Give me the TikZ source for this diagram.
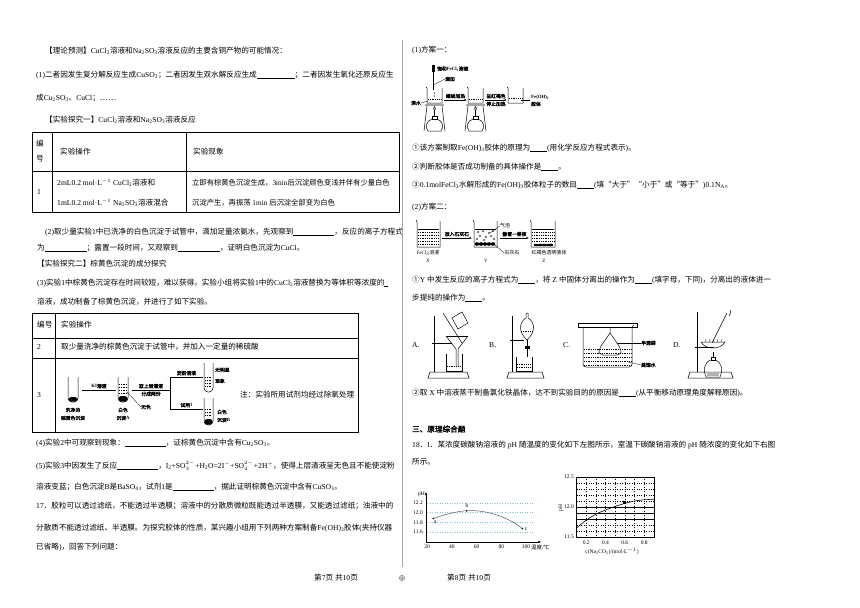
\documentclass[tikz,border=0pt]{standalone}
\usepackage{fontspec}
\setmainfont{Liberation Serif}
\newfontfamily\cjkf{Noto Sans CJK SC}[AutoFakeBold=2]
\usetikzlibrary{arrows.meta}

% 汉字自动换用中文字体
\XeTeXinterchartokenstate=1
\chardef\hanclass=10
\newcount\hanc
\def\sethan#1#2{\hanc=#1 \loop\XeTeXcharclass\hanc=\hanclass\advance\hanc by 1 \ifnum\hanc<#2 \repeat}
\sethan{"3000}{"3040}
\sethan{"4E00}{"A000}
\sethan{"FF00}{"FFF0}
\sethan{"2460}{"24A0}
\XeTeXcharclass"2103=\hanclass
\XeTeXcharclass"2018=\hanclass
\XeTeXcharclass"2019=\hanclass
\XeTeXcharclass"201C=\hanclass
\XeTeXcharclass"201D=\hanclass
\XeTeXcharclass"2026=\hanclass
\XeTeXinterchartoks 0 \hanclass={\cjkf}
\XeTeXinterchartoks 4095 \hanclass={\cjkf}
\XeTeXinterchartoks \hanclass 0={\rmfamily}
\XeTeXinterchartoks \hanclass 4095={\rmfamily}

\newcommand\kong[1]{\rule[-1.3pt]{#1}{0.45pt}}
\newcommand\tsub[1]{\textsubscript{#1}}
\newcommand\tsup[1]{\textsuperscript{#1}}
\newcommand\chion[2]{\ensuremath{_{#1}^{#2}}\kern0.4pt}

\begin{document}
\begin{tikzpicture}[x=1pt,y=-1pt,
    txt/.style={anchor=west,inner sep=0pt,font=\fontsize{7.6}{9}\selectfont},
    lab/.style={inner sep=0pt,font=\fontsize{4.8}{5.5}\selectfont\bfseries},
    lab2/.style={inner sep=0pt,font=\fontsize{5}{6}\selectfont},
    axl/.style={inner sep=0pt,font=\fontsize{5.5}{6}\selectfont},
    tab/.style={line width=0.6pt},
    glass/.style={line width=0.5pt},
    thinl/.style={line width=0.3pt},
    liq/.style={line width=0.3pt,dash pattern=on 1pt off 0.8pt},
    arr/.style={line width=0.4pt,-{Latex[length=2.5pt,width=2pt]}}]
    \useasboundingbox (0,0) rectangle (860,608);

    % 左栏
    \node[txt] (l1) at (45,51) {【理论预测】CuCl\tsub{2}溶液和Na\tsub{2}SO\tsub{3}溶液反应的主要含铜产物的可能情况：};
    \node[txt] (l2) at (36,75) {(1)二者因发生复分解反应生成CuSO\tsub{3}；二者因发生双水解反应生成\kong{38pt}；二者因发生氧化还原反应生};
    \node[txt] (l3) at (36,98) {成Cu\tsub{2}SO\tsub{3}、CuCl；……};
    \node[txt] (l4) at (45,120) {【实验探究一】CuCl\tsub{2}溶液和Na\tsub{2}SO\tsub{3}溶液反应};

    % 表一
    \draw[tab] (32,132) rectangle (399,212);
    \draw[tab] (52,132) -- (52,212) (186,132) -- (186,212) (32,171) -- (399,171);
    \node[txt,anchor=center] (h1a) at (40,144) {编};
    \node[txt,anchor=center] (h1b) at (40,159) {号};
    \node[txt] (h2) at (60,152) {实验操作};
    \node[txt] (h3) at (193,152) {实验现象};
    \node[txt] (r1) at (37,192) {1};
    \node[txt] (r1a) at (57,183) {2mL0.2 mol·L\tsup{$-1$} CuCl\tsub{2}溶液和};
    \node[txt] (r1b) at (57,203) {1mL0.2 mol·L\tsup{$-1$} Na\tsub{2}SO\tsub{3}溶液混合};
    \node[txt,font=\fontsize{7.3}{9}\selectfont] (r1c) at (192,183) {立即有棕黄色沉淀生成，3min后沉淀颜色变浅并伴有少量白色};
    \node[txt,font=\fontsize{7.3}{9}\selectfont] (r1d) at (192,203) {沉淀产生，再振荡 1min 后沉淀全部变为白色};

    \node[txt] (l5) at (45,232) {(2)取少量实验1中已洗净的白色沉淀于试管中，滴加足量浓氨水，先观察到\kong{41pt}，反应的离子方程式};
    \node[txt] (l6) at (37,248) {为\kong{42pt}；露置一段时间，又观察到\kong{42pt}，证明白色沉淀为CuCl。};
    \node[txt] (l7) at (37,264) {【实验探究二】棕黄色沉淀的成分探究};
    \node[txt] (l8) at (37,283) {(3)实验1中棕黄色沉淀存在时间较短，难以获得。实验小组将实验1中的CuCl\tsub{2}溶液替换为等体积等浓度的\kong{4pt}};
    \node[txt] (l9) at (37,302) {溶液，成功制备了棕黄色沉淀，并进行了如下实验。};

    % 表二
    \draw[tab] (32,313) rectangle (358,432);
    \draw[tab] (55,313) -- (55,432) (32,338) -- (358,338) (32,358) -- (358,358);
    \node[txt] (g1) at (37,325) {编号};
    \node[txt] (g2) at (61,325) {实验操作};
    \node[txt] (g3) at (37,347) {2};
    \node[txt] (g4) at (61,347) {取少量洗净的棕黄色沉淀于试管中，并加入一定量的稀硫酸};
    \node[txt] (g5) at (37,395) {3};
    \node[txt] (g6) at (240,395) {注：实验所用试剂均经过除氧处理};

    % 试管
    \draw[glass,rounded corners=4pt] (68,377) -- (68,402) -- (78,402) -- (78,377);
    \fill[rounded corners=3pt] (68.3,397) -- (68.3,401.7) -- (77.7,401.7) -- (77.7,397) -- cycle;
    \node[lab] (t1a) at (73,410) {洗净的};
    \node[lab] (t1b) at (73,418) {棕黄色沉淀};
    \coordinate (k1) at (82,390);
    \coordinate (k2) at (116,390);
    \draw[thinl] (k1) -- node[lab,above=1.5pt] {KI溶液} (k2);

    \draw[glass,rounded corners=4pt] (118,377) -- (118,402) -- (128,402) -- (128,377);
    \foreach \yy in {384,387,390,393} \draw[liq] (119,\yy) -- (127,\yy);
    \fill[rounded corners=3pt] (118.3,396) -- (118.3,401.7) -- (127.7,401.7) -- (127.7,396) -- cycle;
    \node[lab] (t2a) at (123,410) {白色};
    \node[lab] (t2b) at (123,418) {沉淀A};
    \node[lab] (ws) at (146,407) {无色};
    \draw[thinl] (127,392) -- (ws.west);
    \coordinate (q1) at (132,390);
    \coordinate (q2) at (170,390);
    \draw[thinl] (q1) -- node[lab,above=1.5pt] {取上层清液} node[lab,below=1.5pt] {分成两份} (q2);
    \coordinate (q3) at (170,377);
    \coordinate (q4) at (170,409);
    \coordinate (q5) at (203,377);
    \coordinate (q6) at (203,409);
    \draw[thinl] (q3) -- (q4);
    \draw[thinl] (q3) -- node[lab,above=1.5pt] {淀粉溶液} (q5);
    \draw[thinl] (q4) -- node[lab,above=1.5pt] {试剂1} (q6);

    \draw[glass,rounded corners=4pt] (204,363) -- (204,392) -- (213,392) -- (213,363);
    \foreach \yy in {377,380,383,386} \draw[liq] (205,\yy) -- (212,\yy);
    \node[lab,anchor=west] (t3a) at (215,370) {无明显};
    \node[lab,anchor=west] (t3b) at (215,381) {现象};
    \draw[glass,rounded corners=4pt] (204,398) -- (204,425) -- (213,425) -- (213,398);
    \foreach \yy in {409,412,415} \draw[liq] (205,\yy) -- (212,\yy);
    \fill[rounded corners=3pt] (204.3,419) -- (204.3,424.7) -- (212.7,424.7) -- (212.7,419) -- cycle;
    \node[lab,anchor=west] (t4a) at (217,412) {白色};
    \node[lab,anchor=west] (t4b) at (217,420) {沉淀B};

    \node[txt] (l10) at (36,443) {(4)实验2中可观察到现象：\kong{41pt}，证棕黄色沉淀中含有Cu\tsub{2}SO\tsub{3}。};
    \node[txt] (l11) at (36,466) {(5)实验3中因发生了反应\kong{41pt}，I\tsub{2}+SO\chion{3}{2-}+H\tsub{2}O=2I$^-$+SO\chion{4}{2-}+2H$^+$，使得上层清液呈无色且不能使淀粉};
    \node[txt] (l12) at (36,487) {溶液变蓝；白色沉淀B是BaSO\tsub{4}，试剂1是\kong{41pt}，据此证明棕黄色沉淀中含有CuSO\tsub{3}。};
    \node[txt] (l13) at (36,506) {17．胶粒可以透过滤纸，不能透过半透膜；溶液中的分散质微粒既能透过半透膜，又能透过滤纸；浊液中的};
    \node[txt] (l14) at (36,528) {分散质不能透过滤纸、半透膜。为探究胶体的性质，某兴趣小组用下列两种方案制备Fe(OH)\tsub{3}胶体(夹持仪器};
    \node[txt] (l15) at (36,547) {已省略)，回答下列问题：};

    % 分栏线与页脚
    \draw[gray!70,line width=0.5pt] (402,40) -- (402,567);
    \node[txt,anchor=center] (f1) at (336,578) {第7页\ 共10页};
    \draw[gray,line width=0.6pt] (402,578) circle (2.6) (402,578) circle (1.2);
    \node[txt,anchor=center] (f2) at (469,578) {第8页\ 共10页};

    % 右栏
    \node[txt] (s1) at (412,50) {(1)方案一：};
    \fill (431.5,65) rectangle (434.5,72);
    \draw[glass] (433,72) -- (433,90);
    \node[lab,anchor=west] (fe) at (437,69) {饱和FeCl\tsub{3}溶液};
    \node[lab,anchor=west] (dj) at (445,79) {滴加};
    \draw[thinl] (433.5,85) -- (dj.west);
    \foreach \bx in {0,41} {
        \begin{scope}[xshift=\bx]
            \draw[glass] (426,87) -- (427,88) -- (427,103) -- (442,103) -- (442,88);
            \draw[liq] (428,99) -- (441,99);
            \fill[gray!70] (425,104) rectangle (444,106);
            \draw[glass] (427,106) -- (424,131) (442,106) -- (445,131);
            \draw[glass] (434.5,111) .. controls (432.5,109) and (434,107) .. (434.5,106.5) .. controls (435,107) and (436.5,109) .. (434.5,111);
            \draw[glass] (434.5,111) -- (434.5,116);
            \draw[glass] (432,116) rectangle (437,119);
            \draw[glass] (432,119) .. controls (426,121) and (425,127) .. (428,131) -- (441,131) .. controls (444,127) and (443,121) .. (437,119);
        \end{scope}
    }
    \fill (434.5,93) circle (0.6) (434.5,96) circle (0.6);
    \node[lab] (fs) at (416,103) {沸水};
    \draw[thinl] (fs.east) -- (428,101);
    \coordinate (e1) at (444,100);
    \coordinate (e2) at (467,100);
    \draw[arr] (e1) -- node[lab,above=1.5pt] {继续加热} (e2);
    \coordinate (e3) at (485,100);
    \coordinate (e4) at (507,100);
    \draw[arr] (e3) -- node[lab,above=1.5pt] {呈红褐色} node[lab,below=1.5pt] {停止加热} (e4);
    \draw[glass] (507,87) -- (508,88) -- (508,103) -- (523,103) -- (523,88);
    \draw[liq] (509,98) -- (522,98);
    \node[lab,anchor=west] (fo) at (531,97) {Fe(OH)\tsub{3}};
    \node[lab,anchor=west] (jt) at (531,104) {胶体};
    \draw[thinl] (521,100) -- (530,100);

    \node[txt] (s2) at (412,148) {①该方案制取Fe(OH)\tsub{3}胶体的原理为\kong{17pt}(用化学反应方程式表示)。};
    \node[txt] (s3) at (412,167) {②判断胶体是否成功制备的具体操作是\kong{17pt}。};
    \node[txt] (s4) at (412,185) {③0.1molFeCl\tsub{3}水解形成的Fe(OH)\tsub{3}胶体粒子的数目\kong{17pt}(填“大于”“小于”或“等于”)0.1N\tsub{A}。};
    \node[txt] (s5) at (412,207) {(2)方案二：};

    % 方案二
    \draw[glass] (416,220) -- (417,222) -- (417,247) -- (440,247) -- (440,221);
    \draw[glass] (418,229) -- (439,229);
    \foreach \yy in {232,235,238,241,244} \draw[liq] (418,\yy) -- (439,\yy);
    \node[lab2] (xa) at (428,253) {FeCl\tsub{3}溶液};
    \node[lab2] (xb) at (428,261) {X};
    \coordinate (x1) at (442,238);
    \coordinate (x2) at (472,238);
    \draw[arr] (x1) -- node[lab,above=1.5pt] {放入石灰石} (x2);
    \draw[glass] (473,220) -- (474,222) -- (474,247) -- (497,247) -- (497,221);
    \draw[glass] (475,229) -- (496,229);
    \foreach \px/\py in {478/232,483/231,489/233,493/231,480/236,486/237,491/236,477/239,484/240,494/239}
        \draw[line width=0.3pt] (\px,\py) circle (1);
    \foreach \px in {477,481,485,489,493} \fill (\px,244) ellipse (2.3 and 1.8);
    \node[lab2] (qp) at (505,226) {气泡};
    \draw[thinl] (490,233) -- (qp.west);
    \node[lab2] (shs) at (512,253) {石灰石};
    \draw[thinl] (495,245) -- (shs.west);
    \node[lab2] (yb) at (486,261) {Y};
    \coordinate (y1) at (500,238);
    \coordinate (y2) at (529,238);
    \draw[arr] (y1) -- node[lab,above=1.5pt] {静置一昼夜} (y2);
    \draw[glass] (530,220) -- (531,222) -- (531,247) -- (555,247) -- (555,221);
    \draw[glass] (532,229) -- (554,229);
    \foreach \yy in {232,235,238,241} \draw[liq] (532,\yy) -- (554,\yy);
    \foreach \px in {536,540,544,548,551} \fill (\px,245) ellipse (2.3 and 1.3);
    \node[lab2] (zc) at (549,253) {红褐色透明液体};
    \node[lab2] (zb) at (544,261) {Z};

    \node[txt] (s6) at (412,280) {①Y 中发生反应的离子方程式为\kong{17pt}，将 Z 中固体分离出的操作为\kong{17pt}(填字母，下同)，分离出的液体进一};
    \node[txt] (s7) at (412,298) {步提纯的操作为\kong{17pt}。};

    % 仪器 A-D
    \node[txt] (oa) at (412,345) {A.};
    \draw[glass] (428,378) -- (430,372) -- (467,372) -- (469,378) -- cycle;
    \draw[line width=1pt] (434,316) -- (434,372);
    \draw[glass] (432,343) -- (452,343);
    \draw[glass] (446,336) -- (468,336);
    \draw[glass] (446,336) -- (456,349) -- (456,366) (468,336) -- (458,349) -- (458,366);
    \draw[glass] (446,354) -- (446,371) -- (462,371) -- (462,354);
    \draw[liq] (447,366) -- (461,366);
    \draw[glass] (443,313) -- (462,343);
    \draw[glass] (452,318) -- (462,312) -- (468,323) -- (458,329) -- cycle;

    \node[txt] (ob) at (489,345) {B.};
    \draw[glass] (507,378) -- (509,372) -- (542,372) -- (544,378) -- cycle;
    \draw[line width=1pt] (512,316) -- (512,372);
    \draw[glass] (510,340) -- (524,340);
    \draw[glass] (526,313) -- (526,318) .. controls (519,322) and (518,332) .. (527,340) .. controls (536,332) and (535,322) .. (528,318) -- (528,313) -- cycle;
    \draw[liq] (521,331) -- (533,331);
    \draw[glass] (527,340) -- (527,357);
    \fill (524.5,346) rectangle (529.5,349);
    \draw[glass] (516,357) -- (516,371) -- (532,371) -- (532,357);
    \foreach \yy in {364,367} \draw[liq] (517,\yy) -- (531,\yy);

    \node[txt] (oc) at (563,345) {C.};
    \draw[glass] (578,323) rectangle (637,327);
    \draw[glass,rounded corners=3pt] (583,327) -- (583,367) -- (632,367) -- (632,327);
    \draw[glass] (632,327) -- (634,325);
    \draw[glass] (610,327) -- (610,333) -- (601,346) .. controls (598,353) .. (603,355) -- (617,355) .. controls (622,353) .. (619,346) -- (610,333);
    \foreach \yy in {349,353,357,361,365} \draw[liq] (584,\yy) -- (631,\yy);
    \node[lab,anchor=west] (bt) at (641,343) {半透袋};
    \draw[thinl] (617,343) -- (bt.west);
    \node[lab,anchor=west] (zs) at (641,365) {蒸馏水};
    \draw[thinl] (628,362) -- (zs.west);

    \node[txt] (od) at (673,345) {D.};
    \draw[glass] (688,378) -- (690,372) -- (731,372) -- (733,378) -- cycle;
    \draw[line width=1pt] (697,312) -- (697,372);
    \draw[glass] (695,347) -- (714,347);
    \draw[glass] (701,342) .. controls (705,350) and (721,350) .. (725,342) -- cycle;
    \foreach \px in {705,709,713,717,721} \draw[thinl] (\px,342) -- (\px+1,339);
    \draw[glass] (727,313) -- (712,343);
    \draw[glass] (729,316) .. controls (731,312) .. (730,310);
    \draw[glass] (713,352) -- (713,357);
    \draw[glass] (711,357) rectangle (715,360);
    \draw[glass] (711,360) .. controls (704,362) and (703,370) .. (706,377) -- (720,377) .. controls (723,370) and (722,362) .. (715,360);
    \fill[gray!60] (707,372) rectangle (719,376);

    \node[txt] (s8) at (412,393) {②取 X 中溶液蒸干制备氯化铁晶体，达不到实验目的的原因是\kong{17pt}(从平衡移动原理角度解释原因)。};
    \node[txt,font=\fontsize{7.6}{9}\selectfont\bfseries] (s9) at (412,429) {三、原理综合题};
    \node[txt] (s10) at (412,445) {18．I．某浓度碳酸钠溶液的 pH 随温度的变化如下左图所示，室温下碳酸钠溶液的 pH 随浓度的变化如下右图};
    \node[txt] (s11) at (412,462) {所示。};

    % 左图 pH-温度
    \draw[line width=0.4pt,-{Latex[length=3pt,width=2.5pt]}] (426,542) -- (426,492);
    \draw[line width=0.4pt,-{Latex[length=3pt,width=2.5pt]}] (426,542) -- (541,542);
    \node[axl,anchor=east] (py) at (425,494) {pH};
    \foreach \v/\yy in {12.2/503,12.0/512.7,11.8/522.3,11.6/532} {
        \draw[cyan!60,dotted,line width=0.5pt] (427,\yy) -- (533,\yy);
        \node[axl,anchor=east] at (423,\yy) {\v};
    }
    \foreach \t in {20,40,60,80,100}
        \node[axl] at ({427+(\t-20)*1.2375},547) {\t};
    \node[axl,anchor=west] (wd) at (531,547) {温度/℃};
    \draw[gray!70!black,line width=0.5pt] plot[smooth] coordinates {(433.2,518.5) (445.6,514.6) (458,511.7) (466.6,510.8) (476.5,510.8) (488.9,512.7) (501.3,516.6) (513.6,522.4) (522.3,528.6)};
    \fill (433.2,518.5) circle (0.9) (466.6,510.8) circle (0.9) (522.3,528.6) circle (0.9);
    \node[axl] (pa) at (435,522) {a};
    \node[axl] (pb) at (467,506) {b};
    \node[axl] (pc) at (526,529) {c};

    % 右图 pH-浓度
    \foreach \xx in {586.2,595.8,605.5,615.2,624.8,634.5,644.2}
        \draw[dotted,line width=0.4pt] (\xx,477) -- (\xx,537);
    \foreach \yy in {531,525,501,495,489,483}
        \draw[dotted,line width=0.4pt] (576.5,\yy) -- (654,\yy);
    \foreach \yy in {519,513,507}
        \draw[line width=0.4pt] (576.5,\yy) -- (654,\yy);
    \draw[line width=0.6pt] (576.5,477) rectangle (654,537);
    \node[axl,anchor=east] (p125) at (574,477) {12.5};
    \node[axl,anchor=east] (p120) at (574,507) {12.0};
    \node[axl,anchor=east] (p115) at (574,537) {11.5};
    \node[axl,rotate=90] (ph2) at (561,508) {pH};
    \foreach \v/\xx in {0.2/586.2,0.4/605.5,0.6/624.8,0.8/644.2}
        \node[axl] at (\xx,543) {\v};
    \node[axl] (cn) at (612,551) {c(Na\tsub{2}CO\tsub{3})/(mol·L\tsup{$-1$})};
    \draw[line width=0.6pt] plot[smooth] coordinates {(576.5,528) (586.2,520.2) (595.8,514.2) (605.5,510) (615.2,506.4) (624.8,503.4) (634.5,501) (644.2,499.8) (654,499.2)};
    \fill (623.3,501) rectangle (626.3,504);
\end{tikzpicture}
\end{document}
